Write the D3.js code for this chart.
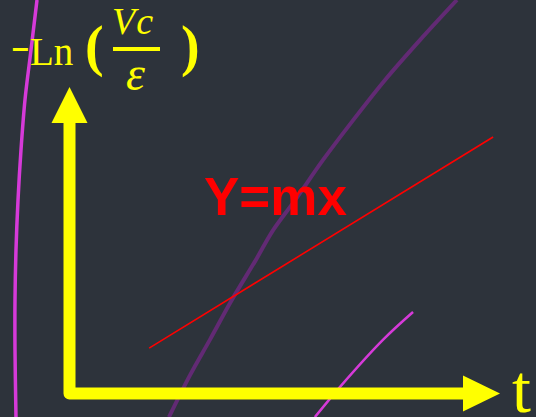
<!DOCTYPE html>
<html>
<head>
<meta charset="utf-8">
<script src="https://cdn.jsdelivr.net/npm/d3@7"></script>
<style>
  html, body { margin: 0; padding: 0; background: #2d333b; }
  svg { display: block; }
</style>
</head>
<body>
<div id="grafico"></div>
<script>
// Dados (unidades do grafico: t no eixo x, -ln(Vc/e) no eixo y)
const tDomain = [0, 10];
const yDomain = [0, 10];

// reta Y = mx (dois pontos)
const retaT = [1.85, 9.84];
const retaY = [1.48, 8.37];

// curva roxa que atravessa o grafico
const roxaT = [9.00, 8.14, 7.33, 6.59, 5.89, 5.24, 4.73, 4.33, 3.77, 3.26, 2.80, 2.31];
const roxaY = [12.84, 11.53, 10.23, 8.92, 7.62, 6.31, 5.33, 4.36, 3.05, 1.75, 0.60, -0.77];

// curva magenta a esquerda
const magT = [-0.755, -0.894, -1.034, -1.127, -1.196, -1.243, -1.266, -1.266, -1.243];
const magY = [12.84, 11.21, 9.58, 7.94, 6.31, 4.68, 3.05, 1.42, -0.77];

// pedaco magenta embaixo a direita
const mag2T = [7.98, 7.28, 6.28, 5.70];
const mag2Y = [2.66, 1.75, 0.21, -0.77];

const width = 536;
const height = 417;

const svg = d3.select("#grafico")
              .append("svg")
              .attr("width", width)
              .attr("height", height);

svg.append("rect")
   .attr("width", width)
   .attr("height", height)
   .attr("fill", "#2d333b");

// Escalas
const x = d3.scaleLinear().domain(tDomain).range([69.5, 500]);
const y = d3.scaleLinear().domain(yDomain).range([393.5, 87]);

const linha = d3.line()
                .x(d => x(d[0]))
                .y(d => y(d[1]))
                .curve(d3.curveCatmullRom);

// Curvas de fundo
svg.append("path")
   .attr("d", linha(d3.zip(magT, magY)))
   .attr("fill", "none")
   .attr("stroke", "#d63ad9")
   .attr("stroke-width", 3.5);

svg.append("path")
   .attr("d", linha(d3.zip(roxaT, roxaY)))
   .attr("fill", "none")
   .attr("stroke", "#622a74")
   .attr("stroke-width", 4);

svg.append("path")
   .attr("d", linha(d3.zip(mag2T, mag2Y)))
   .attr("fill", "none")
   .attr("stroke", "#d63ad9")
   .attr("stroke-width", 2.5);

// Reta Y = mx
svg.append("path")
   .attr("d", d3.line().x(d => x(d[0])).y(d => y(d[1]))(d3.zip(retaT, retaY)))
   .attr("stroke", "#ff0000")
   .attr("stroke-width", 1.6);

// Eixos amarelos com setas
const amarelo = "#ffff00";
const x0 = x(tDomain[0]), y0 = y(yDomain[0]);
const yTopo = y(yDomain[1]), xFim = x(tDomain[1]);

svg.append("path")
   .attr("d", `M${x0},${yTopo + 30} L${x0},${y0} L${xFim - 30},${y0}`)
   .attr("fill", "none")
   .attr("stroke", amarelo)
   .attr("stroke-width", 12)
   .attr("stroke-linejoin", "round");

svg.append("path")
   .attr("d", `M${x0},${yTopo} L${x0 + 18},${yTopo + 36} L${x0 - 18},${yTopo + 36} Z`)
   .attr("fill", amarelo);

svg.append("path")
   .attr("d", `M${xFim},${y0} L${xFim - 37},${y0 - 18} L${xFim - 37},${y0 + 18} Z`)
   .attr("fill", amarelo);

// Label do eixo x
svg.append("text")
   .attr("x", 512)
   .attr("y", 412)
   .attr("font-family", "Liberation Serif")
   .attr("font-size", "68px")
   .attr("fill", amarelo)
   .text("t");

// Label do eixo y: -Ln ( Vc / e )
svg.append("text")
   .attr("x", 12)
   .attr("y", 58)
   .attr("font-family", "Liberation Sans")
   .attr("font-weight", "bold")
   .attr("font-size", "30px")
   .attr("fill", amarelo)
   .text("–");

svg.append("text")
   .attr("x", 30)
   .attr("y", 65)
   .attr("font-family", "Liberation Serif")
   .attr("font-size", "39px")
   .attr("fill", amarelo)
   .text("Ln");

svg.append("text")
   .attr("x", 85)
   .attr("y", 65)
   .attr("font-family", "Liberation Serif")
   .attr("font-weight", "bold")
   .attr("font-size", "56px")
   .attr("fill", amarelo)
   .text("(");

svg.append("text")
   .attr("x", 181)
   .attr("y", 65)
   .attr("font-family", "Liberation Serif")
   .attr("font-weight", "bold")
   .attr("font-size", "56px")
   .attr("fill", amarelo)
   .text(")");

svg.append("text")
   .attr("x", 112)
   .attr("y", 34)
   .attr("font-family", "Liberation Serif")
   .attr("font-style", "italic")
   .attr("font-size", "38px")
   .attr("letter-spacing", "1px")
   .attr("fill", amarelo)
   .text("Vc");

svg.append("rect")
   .attr("x", 113)
   .attr("y", 47)
   .attr("width", 47)
   .attr("height", 4)
   .attr("fill", amarelo);

svg.append("text")
   .attr("x", 126)
   .attr("y", 90)
   .attr("font-family", "Liberation Serif")
   .attr("font-style", "italic")
   .attr("font-size", "48px")
   .attr("fill", amarelo)
   .text("ε");

// Texto Y=mx
svg.append("text")
   .attr("x", 204)
   .attr("y", 215)
   .attr("font-family", "Liberation Sans")
   .attr("font-weight", "bold")
   .attr("font-size", "53px")
   .attr("fill", "#ff0000")
   .text("Y=mx");
</script>
</body>
</html>
